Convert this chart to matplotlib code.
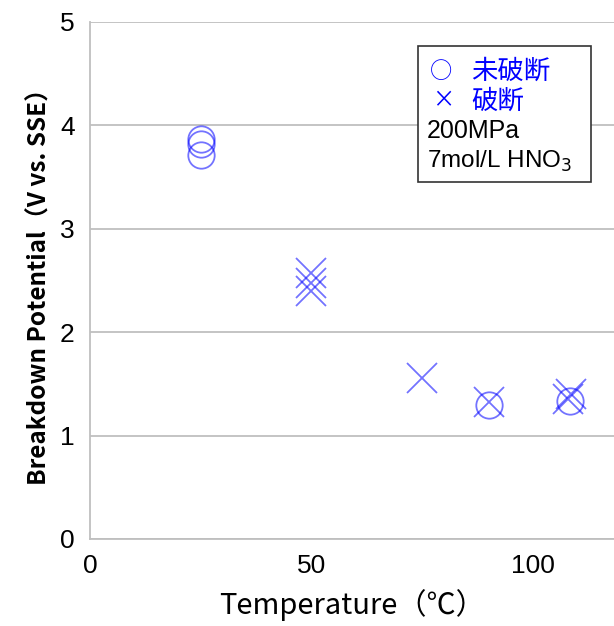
import matplotlib.pyplot as plt
from matplotlib.patches import Rectangle

plt.rcParams['font.family'] = ['Liberation Sans', 'Noto Sans CJK JP', 'DejaVu Sans']

# 未破断 (not fractured)
temp_ok = [25, 25, 25, 90, 108.3]
pot_ok = [3.87, 3.82, 3.71, 1.30, 1.33]

# 破断 (fractured)
temp_ng = [50, 50, 50, 75, 90, 108, 108.6]
pot_ng = [2.57, 2.48, 2.40, 1.56, 1.32, 1.35, 1.40]

x_ticks = [0, 50, 100]
y_ticks = [0, 1, 2, 3, 4, 5]

fig = plt.figure(figsize=(6.14, 6.26), dpi=100)
ax = fig.add_axes([0.1466, 0.139, 0.8534, 0.826])

ax.plot(temp_ok, pot_ok, 'o', mfc='none', mec='blue', mew=1.3, ms=19, alpha=0.55, ls='none')
ax.plot(temp_ng, pot_ng, 'x', color='blue', mew=1.3, ms=21, alpha=0.55, ls='none')

ax.set_xlim(0, 118.3)
ax.set_ylim(0, 5)
ax.set_xticks(x_ticks)
ax.set_yticks(y_ticks)
ax.tick_params(length=0, labelsize=19)
ax.tick_params(axis='y', pad=11)
ax.tick_params(axis='x', pad=11)
ax.yaxis.grid(True, color='#bfbfbf', lw=1.3)
ax.set_axisbelow(True)
for s in ['top', 'right']:
    ax.spines[s].set_visible(False)
for s in ['left', 'bottom']:
    ax.spines[s].set_color('#bfbfbf')
    ax.spines[s].set_linewidth(1.3)

ax.set_xlabel('Temperature（℃）', fontsize=21, family=['Noto Sans CJK JP'], labelpad=8)
ax.set_ylabel('Breakdown Potential（V vs. SSE）', fontsize=17.5, fontweight='bold',
              family=['Noto Sans CJK JP'], labelpad=6)

# note box
ax.add_patch(Rectangle((0.626, 0.690), 0.330, 0.264, transform=ax.transAxes,
                       fc='white', ec='#333333', lw=1.2, zorder=3))
jp = ['Noto Sans CJK JP']
ax.text(0.648, 0.905, '○', transform=ax.transAxes, color='blue', fontsize=16,
        family=jp, va='center', zorder=4)
ax.text(0.728, 0.905, '未破断', transform=ax.transAxes, color='blue', fontsize=19,
        family=jp, va='center', zorder=4)
ax.text(0.652, 0.847, '×', transform=ax.transAxes, color='blue', fontsize=16,
        family=jp, va='center', zorder=4)
ax.text(0.728, 0.847, '破断', transform=ax.transAxes, color='blue', fontsize=19,
        family=jp, va='center', zorder=4)
ax.text(0.643, 0.789, '200MPa', transform=ax.transAxes, fontsize=18, va='center', zorder=4)
ax.text(0.643, 0.731, '7mol/L HNO$_3$', transform=ax.transAxes, fontsize=17.5, va='center', zorder=4)

fig.savefig('out.png', dpi=100)
